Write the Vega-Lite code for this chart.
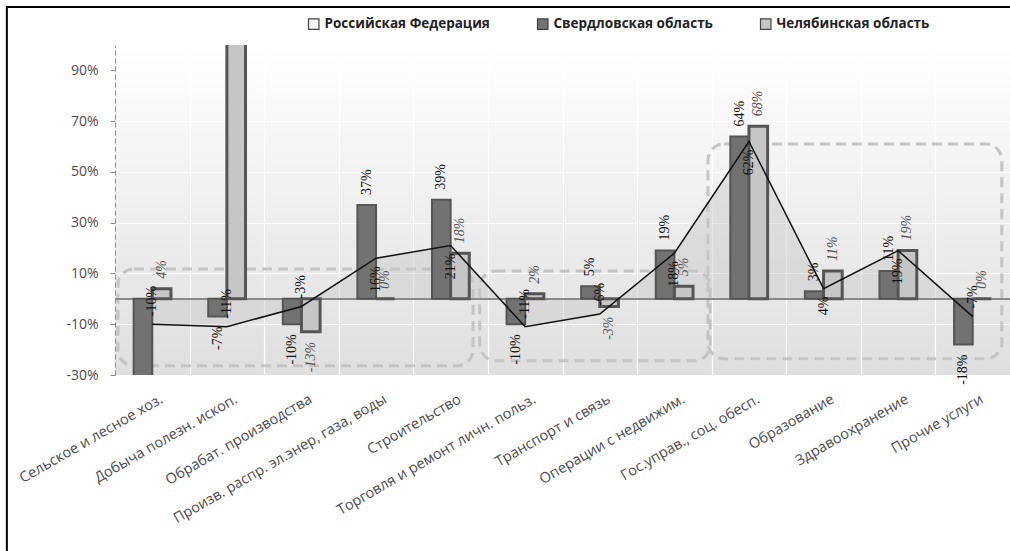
{
  "$schema": "https://vega.github.io/schema/vega-lite/v6.json",
  "width": 895,
  "height": 330,
  "autosize": "none",
  "padding": {"left": 115, "top": 45, "right": 0, "bottom": 176},
  "background": "#ffffff",
  "config": {
    "view": {
      "stroke": null,
      "fill": {"gradient": "linear", "x1": 0, "y1": 0, "x2": 0, "y2": 1,
        "stops": [{"offset": 0, "color": "#ffffff"}, {"offset": 1, "color": "#dfdfdf"}]}
    },
    "locale": {"number": {"decimal": ".", "thousands": ",", "grouping": [3], "currency": ["", ""], "minus": "-"}},
    "font": "Open Sans"
  },
  "datasets": {
    "main": [
      {"cat": "Сельское и лесное хоз.", "series": "Российская Федерация", "value": -0.10},
      {"cat": "Сельское и лесное хоз.", "series": "Свердловская область", "value": -0.31},
      {"cat": "Сельское и лесное хоз.", "series": "Челябинская область", "value": 0.04},
      {"cat": "Добыча полезн. ископ.", "series": "Российская Федерация", "value": -0.11},
      {"cat": "Добыча полезн. ископ.", "series": "Свердловская область", "value": -0.07},
      {"cat": "Добыча полезн. ископ.", "series": "Челябинская область", "value": 1.20},
      {"cat": "Обрабат. производства", "series": "Российская Федерация", "value": -0.03},
      {"cat": "Обрабат. производства", "series": "Свердловская область", "value": -0.10},
      {"cat": "Обрабат. производства", "series": "Челябинская область", "value": -0.13},
      {"cat": "Произв. распр. эл.энер, газа, воды", "series": "Российская Федерация", "value": 0.16},
      {"cat": "Произв. распр. эл.энер, газа, воды", "series": "Свердловская область", "value": 0.37},
      {"cat": "Произв. распр. эл.энер, газа, воды", "series": "Челябинская область", "value": 0.00},
      {"cat": "Строительство", "series": "Российская Федерация", "value": 0.21},
      {"cat": "Строительство", "series": "Свердловская область", "value": 0.39},
      {"cat": "Строительство", "series": "Челябинская область", "value": 0.18},
      {"cat": "Торговля и  ремонт  личн. польз.", "series": "Российская Федерация", "value": -0.11},
      {"cat": "Торговля и  ремонт  личн. польз.", "series": "Свердловская область", "value": -0.10},
      {"cat": "Торговля и  ремонт  личн. польз.", "series": "Челябинская область", "value": 0.02},
      {"cat": "Транспорт и связь", "series": "Российская Федерация", "value": -0.06},
      {"cat": "Транспорт и связь", "series": "Свердловская область", "value": 0.05},
      {"cat": "Транспорт и связь", "series": "Челябинская область", "value": -0.03},
      {"cat": "Операции с недвижим.", "series": "Российская Федерация", "value": 0.18},
      {"cat": "Операции с недвижим.", "series": "Свердловская область", "value": 0.19},
      {"cat": "Операции с недвижим.", "series": "Челябинская область", "value": 0.05},
      {"cat": "Гос.управ., соц. обесп.", "series": "Российская Федерация", "value": 0.62},
      {"cat": "Гос.управ., соц. обесп.", "series": "Свердловская область", "value": 0.64},
      {"cat": "Гос.управ., соц. обесп.", "series": "Челябинская область", "value": 0.68},
      {"cat": "Образование", "series": "Российская Федерация", "value": 0.04},
      {"cat": "Образование", "series": "Свердловская область", "value": 0.03},
      {"cat": "Образование", "series": "Челябинская область", "value": 0.11},
      {"cat": "Здравоохранение", "series": "Российская Федерация", "value": 0.19},
      {"cat": "Здравоохранение", "series": "Свердловская область", "value": 0.11},
      {"cat": "Здравоохранение", "series": "Челябинская область", "value": 0.19},
      {"cat": "Прочие услуги", "series": "Российская Федерация", "value": -0.07},
      {"cat": "Прочие услуги", "series": "Свердловская область", "value": -0.18},
      {"cat": "Прочие услуги", "series": "Челябинская область", "value": 0.00}
    ],
    "boxes": [
      {"x1": 0.04, "x2": 4.80, "y1": 0.118, "y2": -0.264},
      {"x1": 4.89, "x2": 7.98, "y1": 0.11, "y2": -0.244},
      {"x1": 7.95, "x2": 11.89, "y1": 0.61, "y2": -0.236}
    ],
    "frame": [
      {"x1": -1.45, "x2": 12.6, "y1": 1.15, "y2": -1.4}
    ]
  },
  "resolve": {"scale": {"x": "independent"}},
  "layer": [
    {
      "layer": [
        {
          "data": {"name": "frame"},
          "mark": {"type": "rect", "fill": null, "stroke": "#000000", "strokeWidth": 2},
          "encoding": {
            "x": {"field": "x1", "type": "quantitative", "title": null, "scale": {"domain": [0, 12], "nice": false, "zero": false}},
            "x2": {"field": "x2"},
            "y": {"field": "y1", "type": "quantitative", "title": null, "scale": {"domain": [-0.3, 1.0], "nice": false}},
            "y2": {"field": "y2"}
          }
        },
        {
          "data": {"name": "boxes"},
          "mark": {"type": "rect", "fill": null, "stroke": "#c4c4c4", "strokeWidth": 3, "strokeDash": [10, 6], "cornerRadius": 16},
          "encoding": {
            "x": {"field": "x1", "type": "quantitative", "title": null, "scale": {"domain": [0, 12], "nice": false, "zero": false},
              "axis": {"orient": "top", "values": [1, 2, 3, 4, 5, 6, 7, 8, 9, 10, 11], "grid": true, "gridColor": "#ffffff", "gridWidth": 1.2, "labels": false, "ticks": false, "domain": false, "title": null}},
            "x2": {"field": "x2"},
            "y": {"field": "y1", "type": "quantitative", "title": null, "scale": {"domain": [-0.3, 1.0], "nice": false}},
            "y2": {"field": "y2"}
          }
        }
      ]
    },
    {
      "data": {"name": "main"},
      "layer": [
        {
          "transform": [{"filter": "datum.series === 'Российская Федерация'"}],
          "mark": {"type": "area", "fill": "#c8c8c8", "fillOpacity": 0.45},
          "encoding": {
            "x": {"field": "cat", "type": "nominal", "sort": null, "title": null, "scale": {"paddingInner": 0.5, "paddingOuter": 0.25}},
            "y": {"field": "value", "type": "quantitative", "title": null, "scale": {"domain": [-0.3, 1.0], "nice": false}}
          }
        },
        {
          "mark": {"type": "rule", "color": "#8a8a8a", "strokeWidth": 1.5},
          "encoding": {"y": {"datum": 0, "type": "quantitative", "title": null, "scale": {"domain": [-0.3, 1.0], "nice": false}}}
        },
        {
          "transform": [{"filter": "datum.series !== 'Российская Федерация'"}],
          "mark": {"type": "bar", "clip": true, "stroke": "#555555"},
          "encoding": {
            "x": {"field": "cat", "type": "nominal", "sort": null, "title": null, "scale": {"paddingInner": 0.5, "paddingOuter": 0.25},
              "axis": {"labelAngle": -30, "labelAlign": "right", "labelBaseline": "top", "labelPadding": 17, "labelOffset": 6, "ticks": false, "domain": false, "grid": false, "title": null, "labelFont": "Open Sans", "labelFontSize": 14.5, "labelColor": "#4d4d4d", "labelLimit": 400, "labelOverlap": false}},
            "xOffset": {"field": "series", "type": "nominal", "scale": {"domain": ["Свердловская область", "Челябинская область"], "paddingInner": 0, "paddingOuter": 0}},
            "y": {"field": "value", "type": "quantitative", "title": null, "scale": {"domain": [-0.3, 1.0], "nice": false},
              "axis": {"values": [-0.3, -0.1, 0.1, 0.3, 0.5, 0.7, 0.9], "format": ".0%", "grid": true, "gridColor": "#ffffff", "gridWidth": 1.2, "domainDash": [5, 3], "domainColor": "#8a8a8a", "tickColor": "#8a8a8a", "tickSize": 5, "labelPadding": 12, "labelFont": "Open Sans", "labelFontSize": 14, "labelColor": "#4d4d4d", "title": null}},
            "fill": {"field": "series", "type": "nominal",
              "scale": {"domain": ["Российская Федерация", "Свердловская область", "Челябинская область"], "range": ["#f4f4f4", "#727272", "#c6c6c6"]},
              "legend": {"orient": "none", "legendX": 192, "legendY": -28, "direction": "horizontal", "title": null, "symbolType": "square", "symbolSize": 110, "symbolStrokeColor": "#444444", "symbolStrokeWidth": 1.2, "labelFont": "Open Sans", "labelFontSize": 13.5, "labelFontWeight": "bold", "labelColor": "#222222", "columnPadding": 45, "labelOffset": 4, "labelLimit": 300}},
            "strokeWidth": {"condition": {"test": "datum.series === 'Челябинская область'", "value": 3}, "value": 2}
          }
        },
        {
          "transform": [{"filter": "datum.series === 'Российская Федерация'"}],
          "mark": {"type": "line", "color": "#111111", "strokeWidth": 1.5},
          "encoding": {
            "x": {"field": "cat", "type": "nominal", "sort": null, "title": null},
            "y": {"field": "value", "type": "quantitative", "title": null}
          }
        },
        {
          "transform": [{"filter": "datum.series === 'Свердловская область' && datum.value >= 0 && datum.value <= 1"}],
          "mark": {"type": "text", "angle": -90, "align": "left", "baseline": "middle", "dx": 10, "font": "Liberation Serif", "fontSize": 14, "color": "#111111"},
          "encoding": {
            "x": {"field": "cat", "type": "nominal", "sort": null, "title": null},
            "xOffset": {"field": "series", "type": "nominal"},
            "y": {"field": "value", "type": "quantitative", "title": null},
            "text": {"field": "value", "type": "quantitative", "format": ".0%"}
          }
        },
        {
          "transform": [{"filter": "datum.series === 'Свердловская область' && datum.value < 0 && datum.value >= -0.3"}],
          "mark": {"type": "text", "angle": -90, "align": "right", "baseline": "middle", "dx": -10, "font": "Liberation Serif", "fontSize": 14, "color": "#111111"},
          "encoding": {
            "x": {"field": "cat", "type": "nominal", "sort": null, "title": null},
            "xOffset": {"field": "series", "type": "nominal"},
            "y": {"field": "value", "type": "quantitative", "title": null},
            "text": {"field": "value", "type": "quantitative", "format": ".0%"}
          }
        },
        {
          "transform": [{"filter": "datum.series === 'Челябинская область' && datum.value >= 0 && datum.value <= 1"}],
          "mark": {"type": "text", "angle": -90, "align": "left", "baseline": "middle", "dx": 10, "font": "Liberation Serif", "fontSize": 14, "fontStyle": "italic", "color": "#555555"},
          "encoding": {
            "x": {"field": "cat", "type": "nominal", "sort": null, "title": null},
            "xOffset": {"field": "series", "type": "nominal"},
            "y": {"field": "value", "type": "quantitative", "title": null},
            "text": {"field": "value", "type": "quantitative", "format": ".0%"}
          }
        },
        {
          "transform": [{"filter": "datum.series === 'Челябинская область' && datum.value < 0 && datum.value >= -0.3"}],
          "mark": {"type": "text", "angle": -90, "align": "right", "baseline": "middle", "dx": -10, "font": "Liberation Serif", "fontSize": 14, "fontStyle": "italic", "color": "#555555"},
          "encoding": {
            "x": {"field": "cat", "type": "nominal", "sort": null, "title": null},
            "xOffset": {"field": "series", "type": "nominal"},
            "y": {"field": "value", "type": "quantitative", "title": null},
            "text": {"field": "value", "type": "quantitative", "format": ".0%"}
          }
        },
        {
          "transform": [{"filter": "datum.series === 'Российская Федерация' && datum.value >= 0"}],
          "mark": {"type": "text", "angle": -90, "align": "right", "baseline": "middle", "dx": -8, "font": "Liberation Serif", "fontSize": 14, "color": "#111111"},
          "encoding": {
            "x": {"field": "cat", "type": "nominal", "sort": null, "title": null},
            "y": {"field": "value", "type": "quantitative", "title": null},
            "text": {"field": "value", "type": "quantitative", "format": ".0%"}
          }
        },
        {
          "transform": [{"filter": "datum.series === 'Российская Федерация' && datum.value < 0"}],
          "mark": {"type": "text", "angle": -90, "align": "left", "baseline": "middle", "dx": 8, "font": "Liberation Serif", "fontSize": 14, "color": "#111111"},
          "encoding": {
            "x": {"field": "cat", "type": "nominal", "sort": null, "title": null},
            "y": {"field": "value", "type": "quantitative", "title": null},
            "text": {"field": "value", "type": "quantitative", "format": ".0%"}
          }
        }
      ]
    }
  ]
}
